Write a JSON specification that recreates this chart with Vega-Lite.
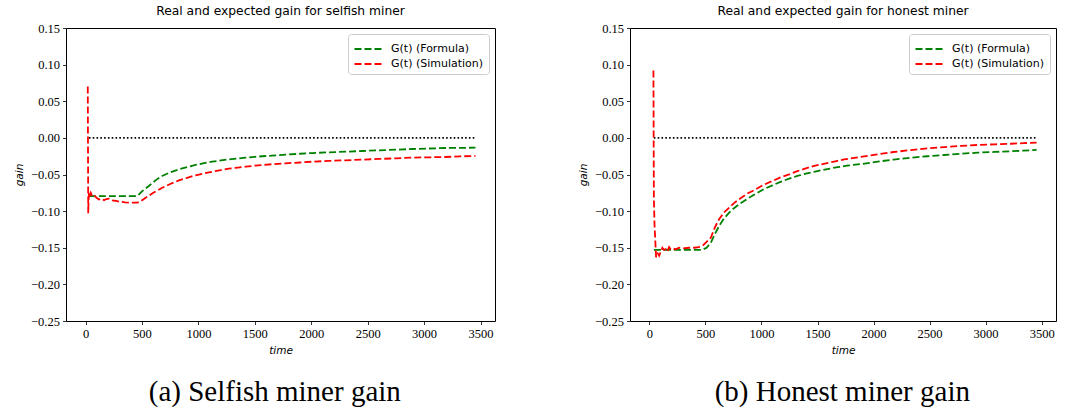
{
  "$schema": "https://vega.github.io/schema/vega-lite/v6.json",
  "background": "white",
  "padding": {"left": 14, "top": 4, "right": 0, "bottom": 0},
  "config": {
    "view": {"stroke": "black", "strokeWidth": 1},
    "title": {"font": "DejaVu Sans", "fontSize": 12.3, "fontWeight": "normal", "color": "black", "offset": 5},
    "axis": {
      "domain": false,
      "grid": false,
      "labelFont": "Liberation Serif",
      "labelFontSize": 12.5,
      "labelColor": "black",
      "tickColor": "black",
      "tickSize": 3.5,
      "tickWidth": 0.8,
      "labelPadding": 3,
      "titleFont": "DejaVu Sans",
      "titleFontStyle": "italic",
      "titleFontWeight": "normal",
      "titleFontSize": 10.5,
      "titleColor": "black"
    },
    "legend": {
      "orient": "top-right",
      "offset": 6,
      "title": null,
      "symbolType": "M-1.5,0H1.5",
      "symbolDash": [7, 3],
      "symbolStrokeWidth": 1.8,
      "symbolSize": 324,
      "symbolOffset": 5,
      "labelFont": "DejaVu Sans",
      "labelFontSize": 11,
      "labelColor": "black",
      "labelOffset": 13,
      "strokeColor": "#cccccc",
      "fillColor": "white",
      "padding": 5,
      "cornerRadius": 3,
      "rowPadding": 0
    }
  },
  "datasets": {
    "selfish": [
      {"t": 30, "gain": -0.0794, "series": "G(t) (Formula)"},
      {"t": 100, "gain": -0.0794, "series": "G(t) (Formula)"},
      {"t": 200, "gain": -0.0794, "series": "G(t) (Formula)"},
      {"t": 300, "gain": -0.0794, "series": "G(t) (Formula)"},
      {"t": 400, "gain": -0.0794, "series": "G(t) (Formula)"},
      {"t": 460, "gain": -0.0794, "series": "G(t) (Formula)"},
      {"t": 500, "gain": -0.073, "series": "G(t) (Formula)"},
      {"t": 561, "gain": -0.0657, "series": "G(t) (Formula)"},
      {"t": 620, "gain": -0.058, "series": "G(t) (Formula)"},
      {"t": 679, "gain": -0.052, "series": "G(t) (Formula)"},
      {"t": 750, "gain": -0.047, "series": "G(t) (Formula)"},
      {"t": 827, "gain": -0.0429, "series": "G(t) (Formula)"},
      {"t": 900, "gain": -0.0398, "series": "G(t) (Formula)"},
      {"t": 975, "gain": -0.037, "series": "G(t) (Formula)"},
      {"t": 1050, "gain": -0.0346, "series": "G(t) (Formula)"},
      {"t": 1122, "gain": -0.0325, "series": "G(t) (Formula)"},
      {"t": 1200, "gain": -0.0308, "series": "G(t) (Formula)"},
      {"t": 1270, "gain": -0.0293, "series": "G(t) (Formula)"},
      {"t": 1350, "gain": -0.0281, "series": "G(t) (Formula)"},
      {"t": 1418, "gain": -0.027, "series": "G(t) (Formula)"},
      {"t": 1500, "gain": -0.0259, "series": "G(t) (Formula)"},
      {"t": 1565, "gain": -0.0251, "series": "G(t) (Formula)"},
      {"t": 1650, "gain": -0.0242, "series": "G(t) (Formula)"},
      {"t": 1772, "gain": -0.0229, "series": "G(t) (Formula)"},
      {"t": 1900, "gain": -0.0217, "series": "G(t) (Formula)"},
      {"t": 2008, "gain": -0.0207, "series": "G(t) (Formula)"},
      {"t": 2150, "gain": -0.0198, "series": "G(t) (Formula)"},
      {"t": 2304, "gain": -0.0189, "series": "G(t) (Formula)"},
      {"t": 2450, "gain": -0.0179, "series": "G(t) (Formula)"},
      {"t": 2599, "gain": -0.017, "series": "G(t) (Formula)"},
      {"t": 2750, "gain": -0.0161, "series": "G(t) (Formula)"},
      {"t": 2894, "gain": -0.0152, "series": "G(t) (Formula)"},
      {"t": 3050, "gain": -0.0145, "series": "G(t) (Formula)"},
      {"t": 3190, "gain": -0.0138, "series": "G(t) (Formula)"},
      {"t": 3320, "gain": -0.0136, "series": "G(t) (Formula)"},
      {"t": 3455, "gain": -0.0134, "series": "G(t) (Formula)"},
      {"t": 20, "gain": 0.07, "series": "G(t) (Simulation)"},
      {"t": 24, "gain": -0.103, "series": "G(t) (Simulation)"},
      {"t": 28, "gain": -0.08, "series": "G(t) (Simulation)"},
      {"t": 32, "gain": -0.074, "series": "G(t) (Simulation)"},
      {"t": 38, "gain": -0.078, "series": "G(t) (Simulation)"},
      {"t": 46, "gain": -0.0748, "series": "G(t) (Simulation)"},
      {"t": 60, "gain": -0.08, "series": "G(t) (Simulation)"},
      {"t": 80, "gain": -0.079, "series": "G(t) (Simulation)"},
      {"t": 100, "gain": -0.082, "series": "G(t) (Simulation)"},
      {"t": 120, "gain": -0.084, "series": "G(t) (Simulation)"},
      {"t": 140, "gain": -0.083, "series": "G(t) (Simulation)"},
      {"t": 164, "gain": -0.085, "series": "G(t) (Simulation)"},
      {"t": 185, "gain": -0.0835, "series": "G(t) (Simulation)"},
      {"t": 208, "gain": -0.083, "series": "G(t) (Simulation)"},
      {"t": 237, "gain": -0.0853, "series": "G(t) (Simulation)"},
      {"t": 270, "gain": -0.086, "series": "G(t) (Simulation)"},
      {"t": 300, "gain": -0.087, "series": "G(t) (Simulation)"},
      {"t": 326, "gain": -0.0875, "series": "G(t) (Simulation)"},
      {"t": 350, "gain": -0.088, "series": "G(t) (Simulation)"},
      {"t": 385, "gain": -0.0885, "series": "G(t) (Simulation)"},
      {"t": 420, "gain": -0.0885, "series": "G(t) (Simulation)"},
      {"t": 450, "gain": -0.0885, "series": "G(t) (Simulation)"},
      {"t": 474, "gain": -0.088, "series": "G(t) (Simulation)"},
      {"t": 533, "gain": -0.0817, "series": "G(t) (Simulation)"},
      {"t": 600, "gain": -0.075, "series": "G(t) (Simulation)"},
      {"t": 680, "gain": -0.068, "series": "G(t) (Simulation)"},
      {"t": 750, "gain": -0.063, "series": "G(t) (Simulation)"},
      {"t": 828, "gain": -0.058, "series": "G(t) (Simulation)"},
      {"t": 900, "gain": -0.0545, "series": "G(t) (Simulation)"},
      {"t": 975, "gain": -0.0511, "series": "G(t) (Simulation)"},
      {"t": 1050, "gain": -0.0485, "series": "G(t) (Simulation)"},
      {"t": 1122, "gain": -0.0462, "series": "G(t) (Simulation)"},
      {"t": 1200, "gain": -0.044, "series": "G(t) (Simulation)"},
      {"t": 1270, "gain": -0.042, "series": "G(t) (Simulation)"},
      {"t": 1350, "gain": -0.0405, "series": "G(t) (Simulation)"},
      {"t": 1418, "gain": -0.0393, "series": "G(t) (Simulation)"},
      {"t": 1500, "gain": -0.038, "series": "G(t) (Simulation)"},
      {"t": 1565, "gain": -0.037, "series": "G(t) (Simulation)"},
      {"t": 1650, "gain": -0.036, "series": "G(t) (Simulation)"},
      {"t": 1772, "gain": -0.0347, "series": "G(t) (Simulation)"},
      {"t": 1900, "gain": -0.0336, "series": "G(t) (Simulation)"},
      {"t": 2008, "gain": -0.0325, "series": "G(t) (Simulation)"},
      {"t": 2150, "gain": -0.0315, "series": "G(t) (Simulation)"},
      {"t": 2304, "gain": -0.0306, "series": "G(t) (Simulation)"},
      {"t": 2450, "gain": -0.0297, "series": "G(t) (Simulation)"},
      {"t": 2599, "gain": -0.0288, "series": "G(t) (Simulation)"},
      {"t": 2750, "gain": -0.0279, "series": "G(t) (Simulation)"},
      {"t": 2894, "gain": -0.027, "series": "G(t) (Simulation)"},
      {"t": 3050, "gain": -0.0265, "series": "G(t) (Simulation)"},
      {"t": 3190, "gain": -0.0261, "series": "G(t) (Simulation)"},
      {"t": 3320, "gain": -0.0253, "series": "G(t) (Simulation)"},
      {"t": 3455, "gain": -0.0246, "series": "G(t) (Simulation)"},
      {"t": 30, "gain": 0, "series": "zero"},
      {"t": 3455, "gain": 0, "series": "zero"}
    ],
    "honest": [
      {"t": 40, "gain": -0.153, "series": "G(t) (Formula)"},
      {"t": 100, "gain": -0.153, "series": "G(t) (Formula)"},
      {"t": 200, "gain": -0.153, "series": "G(t) (Formula)"},
      {"t": 300, "gain": -0.153, "series": "G(t) (Formula)"},
      {"t": 400, "gain": -0.153, "series": "G(t) (Formula)"},
      {"t": 470, "gain": -0.153, "series": "G(t) (Formula)"},
      {"t": 510, "gain": -0.15, "series": "G(t) (Formula)"},
      {"t": 548, "gain": -0.1431, "series": "G(t) (Formula)"},
      {"t": 585, "gain": -0.131, "series": "G(t) (Formula)"},
      {"t": 622, "gain": -0.1203, "series": "G(t) (Formula)"},
      {"t": 665, "gain": -0.11, "series": "G(t) (Formula)"},
      {"t": 712, "gain": -0.1021, "series": "G(t) (Formula)"},
      {"t": 755, "gain": -0.096, "series": "G(t) (Formula)"},
      {"t": 801, "gain": -0.0907, "series": "G(t) (Formula)"},
      {"t": 875, "gain": -0.083, "series": "G(t) (Formula)"},
      {"t": 950, "gain": -0.0762, "series": "G(t) (Formula)"},
      {"t": 1020, "gain": -0.07, "series": "G(t) (Formula)"},
      {"t": 1098, "gain": -0.0648, "series": "G(t) (Formula)"},
      {"t": 1170, "gain": -0.06, "series": "G(t) (Formula)"},
      {"t": 1247, "gain": -0.0557, "series": "G(t) (Formula)"},
      {"t": 1320, "gain": -0.052, "series": "G(t) (Formula)"},
      {"t": 1396, "gain": -0.0489, "series": "G(t) (Formula)"},
      {"t": 1480, "gain": -0.046, "series": "G(t) (Formula)"},
      {"t": 1575, "gain": -0.0429, "series": "G(t) (Formula)"},
      {"t": 1680, "gain": -0.04, "series": "G(t) (Formula)"},
      {"t": 1760, "gain": -0.038, "series": "G(t) (Formula)"},
      {"t": 1900, "gain": -0.0355, "series": "G(t) (Formula)"},
      {"t": 2036, "gain": -0.0325, "series": "G(t) (Formula)"},
      {"t": 2180, "gain": -0.0296, "series": "G(t) (Formula)"},
      {"t": 2334, "gain": -0.027, "series": "G(t) (Formula)"},
      {"t": 2480, "gain": -0.0251, "series": "G(t) (Formula)"},
      {"t": 2631, "gain": -0.0234, "series": "G(t) (Formula)"},
      {"t": 2780, "gain": -0.0217, "series": "G(t) (Formula)"},
      {"t": 2929, "gain": -0.0202, "series": "G(t) (Formula)"},
      {"t": 3080, "gain": -0.0192, "series": "G(t) (Formula)"},
      {"t": 3227, "gain": -0.0183, "series": "G(t) (Formula)"},
      {"t": 3340, "gain": -0.0174, "series": "G(t) (Formula)"},
      {"t": 3455, "gain": -0.0165, "series": "G(t) (Formula)"},
      {"t": 36, "gain": 0.092, "series": "G(t) (Simulation)"},
      {"t": 40, "gain": -0.083, "series": "G(t) (Simulation)"},
      {"t": 46, "gain": -0.12, "series": "G(t) (Simulation)"},
      {"t": 60, "gain": -0.163, "series": "G(t) (Simulation)"},
      {"t": 75, "gain": -0.158, "series": "G(t) (Simulation)"},
      {"t": 87, "gain": -0.161, "series": "G(t) (Simulation)"},
      {"t": 100, "gain": -0.156, "series": "G(t) (Simulation)"},
      {"t": 116, "gain": -0.15, "series": "G(t) (Simulation)"},
      {"t": 130, "gain": -0.153, "series": "G(t) (Simulation)"},
      {"t": 146, "gain": -0.152, "series": "G(t) (Simulation)"},
      {"t": 160, "gain": -0.155, "series": "G(t) (Simulation)"},
      {"t": 176, "gain": -0.149, "series": "G(t) (Simulation)"},
      {"t": 190, "gain": -0.152, "series": "G(t) (Simulation)"},
      {"t": 205, "gain": -0.151, "series": "G(t) (Simulation)"},
      {"t": 235, "gain": -0.152, "series": "G(t) (Simulation)"},
      {"t": 265, "gain": -0.15, "series": "G(t) (Simulation)"},
      {"t": 300, "gain": -0.151, "series": "G(t) (Simulation)"},
      {"t": 354, "gain": -0.15, "series": "G(t) (Simulation)"},
      {"t": 400, "gain": -0.15, "series": "G(t) (Simulation)"},
      {"t": 440, "gain": -0.149, "series": "G(t) (Simulation)"},
      {"t": 473, "gain": -0.1476, "series": "G(t) (Simulation)"},
      {"t": 510, "gain": -0.142, "series": "G(t) (Simulation)"},
      {"t": 548, "gain": -0.1363, "series": "G(t) (Simulation)"},
      {"t": 585, "gain": -0.122, "series": "G(t) (Simulation)"},
      {"t": 622, "gain": -0.1112, "series": "G(t) (Simulation)"},
      {"t": 665, "gain": -0.102, "series": "G(t) (Simulation)"},
      {"t": 712, "gain": -0.0953, "series": "G(t) (Simulation)"},
      {"t": 755, "gain": -0.089, "series": "G(t) (Simulation)"},
      {"t": 801, "gain": -0.0839, "series": "G(t) (Simulation)"},
      {"t": 875, "gain": -0.076, "series": "G(t) (Simulation)"},
      {"t": 950, "gain": -0.0702, "series": "G(t) (Simulation)"},
      {"t": 1020, "gain": -0.064, "series": "G(t) (Simulation)"},
      {"t": 1098, "gain": -0.0589, "series": "G(t) (Simulation)"},
      {"t": 1170, "gain": -0.054, "series": "G(t) (Simulation)"},
      {"t": 1247, "gain": -0.0497, "series": "G(t) (Simulation)"},
      {"t": 1320, "gain": -0.0455, "series": "G(t) (Simulation)"},
      {"t": 1396, "gain": -0.0415, "series": "G(t) (Simulation)"},
      {"t": 1480, "gain": -0.038, "series": "G(t) (Simulation)"},
      {"t": 1575, "gain": -0.0347, "series": "G(t) (Simulation)"},
      {"t": 1660, "gain": -0.032, "series": "G(t) (Simulation)"},
      {"t": 1738, "gain": -0.0293, "series": "G(t) (Simulation)"},
      {"t": 1880, "gain": -0.026, "series": "G(t) (Simulation)"},
      {"t": 2036, "gain": -0.0225, "series": "G(t) (Simulation)"},
      {"t": 2180, "gain": -0.0193, "series": "G(t) (Simulation)"},
      {"t": 2334, "gain": -0.0166, "series": "G(t) (Simulation)"},
      {"t": 2480, "gain": -0.0144, "series": "G(t) (Simulation)"},
      {"t": 2631, "gain": -0.0125, "series": "G(t) (Simulation)"},
      {"t": 2780, "gain": -0.011, "series": "G(t) (Simulation)"},
      {"t": 2929, "gain": -0.0097, "series": "G(t) (Simulation)"},
      {"t": 3080, "gain": -0.0088, "series": "G(t) (Simulation)"},
      {"t": 3227, "gain": -0.008, "series": "G(t) (Simulation)"},
      {"t": 3340, "gain": -0.0072, "series": "G(t) (Simulation)"},
      {"t": 3455, "gain": -0.0065, "series": "G(t) (Simulation)"},
      {"t": 40, "gain": 0, "series": "zero"},
      {"t": 3455, "gain": 0, "series": "zero"}
    ]
  },
  "resolve": {"scale": {"color": "independent", "x": "independent", "y": "independent"}, "legend": {"color": "independent"}},
  "spacing": 82,
  "hconcat": [
    {
      "title": {"text": "(a) Selfish miner gain", "orient": "bottom", "font": "Liberation Serif", "fontSize": 29, "offset": 22, "anchor": "middle", "dx": 20},
      "resolve": {"legend": {"color": "independent"}},
      "vconcat": [
        {
          "title": "Real and expected gain for selfish miner",
          "width": 429,
          "height": 293,
          "data": {"name": "selfish"},
          "encoding": {
            "x": {"field": "t", "type": "quantitative", "title": "time",
                  "scale": {"domain": [-173, 3628], "nice": false, "zero": false},
                  "axis": {"values": [0, 500, 1000, 1500, 2000, 2500, 3000, 3500], "format": "d", "titlePadding": 5}},
            "y": {"field": "gain", "type": "quantitative", "title": "gain",
                  "scale": {"domain": [-0.25, 0.15], "nice": false, "zero": false},
                  "axis": {"values": [-0.25, -0.2, -0.15, -0.1, -0.05, 0, 0.05, 0.1, 0.15], "format": ".2f", "titlePadding": 6}}
          },
          "layer": [
            {
              "transform": [{"filter": "datum.series == 'zero'"}],
              "mark": {"type": "line", "color": "black", "strokeWidth": 1.6, "strokeDash": [1.6, 2.2]}
            },
            {
              "transform": [{"filter": "datum.series != 'zero'"}],
              "mark": {"type": "line", "strokeWidth": 1.8, "strokeDash": [7, 3]},
              "encoding": {
                "color": {"field": "series", "type": "nominal",
                          "scale": {"domain": ["G(t) (Formula)", "G(t) (Simulation)"], "range": ["#008000", "#ff0000"]}}
              }
            }
          ]
        }
      ]
    },
    {
      "title": {"text": "(b) Honest miner gain", "orient": "bottom", "font": "Liberation Serif", "fontSize": 29, "offset": 22, "anchor": "middle", "dx": 25},
      "resolve": {"legend": {"color": "independent"}},
      "vconcat": [
        {
          "title": "Real and expected gain for honest miner",
          "width": 426,
          "height": 293,
          "data": {"name": "honest"},
          "encoding": {
            "x": {"field": "t", "type": "quantitative", "title": "time",
                  "scale": {"domain": [-173, 3628], "nice": false, "zero": false},
                  "axis": {"values": [0, 500, 1000, 1500, 2000, 2500, 3000, 3500], "format": "d", "titlePadding": 5}},
            "y": {"field": "gain", "type": "quantitative", "title": "gain",
                  "scale": {"domain": [-0.25, 0.15], "nice": false, "zero": false},
                  "axis": {"values": [-0.25, -0.2, -0.15, -0.1, -0.05, 0, 0.05, 0.1, 0.15], "format": ".2f", "titlePadding": 6}}
          },
          "layer": [
            {
              "transform": [{"filter": "datum.series == 'zero'"}],
              "mark": {"type": "line", "color": "black", "strokeWidth": 1.6, "strokeDash": [1.6, 2.2]}
            },
            {
              "transform": [{"filter": "datum.series != 'zero'"}],
              "mark": {"type": "line", "strokeWidth": 1.8, "strokeDash": [7, 3]},
              "encoding": {
                "color": {"field": "series", "type": "nominal",
                          "scale": {"domain": ["G(t) (Formula)", "G(t) (Simulation)"], "range": ["#008000", "#ff0000"]}}
              }
            }
          ]
        }
      ]
    }
  ]
}
